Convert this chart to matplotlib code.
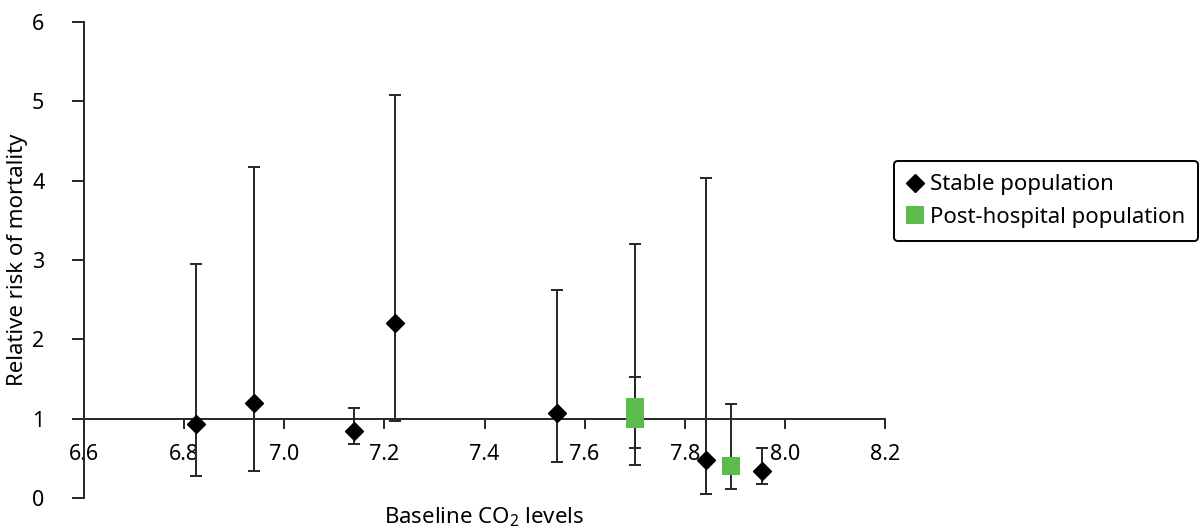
import numpy as np
import matplotlib.pyplot as plt
from matplotlib.lines import Line2D

plt.rcParams['font.family'] = ['Noto Sans', 'DejaVu Sans']
plt.rcParams['mathtext.default'] = 'regular'

# stable population studies
stable_x = [6.823, 6.94, 7.139, 7.221, 7.544, 7.842, 7.955]
stable_rr = [0.93, 1.20, 0.84, 2.21, 1.07, 0.48, 0.34]
stable_lo = [0.28, 0.34, 0.675, 0.975, 0.45, 0.05, 0.18]
stable_hi = [2.95, 4.17, 1.13, 5.08, 2.62, 4.03, 0.63]

# post-hospital population studies
post_x = [7.701, 7.701, 7.893]
post_rr = [1.15, 0.99, 0.40]
post_lo = [0.41, 0.625, 0.11]
post_hi = [3.20, 1.52, 1.19]

x_ticks = [6.6, 6.8, 7.0, 7.2, 7.4, 7.6, 7.8, 8.0, 8.2]
y_ticks = [0, 1, 2, 3, 4, 5, 6]

dark = '#262626'
green = '#5DBB4E'

fig = plt.figure(figsize=(12, 5.31), dpi=100)
ax = fig.add_axes([84/1200, 1 - 498/531, (885-84)/1200, (498-22)/531])

def yerr(rr, lo, hi):
    rr, lo, hi = np.array(rr), np.array(lo), np.array(hi)
    return [rr - lo, hi - rr]

ax.errorbar(stable_x, stable_rr, yerr=yerr(stable_rr, stable_lo, stable_hi), fmt='none',
            ecolor=dark, elinewidth=1.4, capsize=4, capthick=1.4, zorder=2)
ax.errorbar(post_x, post_rr, yerr=yerr(post_rr, post_lo, post_hi), fmt='none',
            ecolor=dark, elinewidth=1.4, capsize=4, capthick=1.4, zorder=2)
ax.plot(stable_x, stable_rr, 'D', color='black', markersize=9, zorder=3, clip_on=False)
ax.plot(post_x, post_rr, 's', color=green, markersize=13.5, markeredgewidth=0, zorder=3, clip_on=False)

ax.set_xlim(6.6, 8.2)
ax.set_ylim(0, 6)
ax.set_xticks(x_ticks)
ax.set_xticklabels([f'{v:.1f}' for v in x_ticks])
ax.set_yticks(y_ticks)

for s in ['top', 'right']:
    ax.spines[s].set_visible(False)
ax.spines['bottom'].set_position(('data', 1))
ax.spines['left'].set_color(dark)
ax.spines['bottom'].set_color(dark)
ax.spines['left'].set_linewidth(1.4)
ax.spines['bottom'].set_linewidth(1.4)

ax.tick_params(axis='x', direction='out', length=7, width=1.4, color=dark, pad=11, labelsize=15.5)
ax.tick_params(axis='y', direction='out', length=8.5, width=1.4, color=dark, pad=20, labelsize=15.5)

fig.text(484/1200, 2/531, 'Baseline CO$_2$ levels', ha='center', va='bottom', fontsize=16)
fig.text(18/1200, 1 - 260/531, 'Relative risk of mortality', ha='center', va='center',
         rotation=90, fontsize=16)

handles = [Line2D([], [], marker='D', color='black', linestyle='none', markersize=9),
           Line2D([], [], marker='s', color=green, linestyle='none', markersize=13.5, markeredgewidth=0)]
leg = fig.legend(handles, ['Stable population', 'Post-hospital population'],
                 loc='upper right', bbox_to_anchor=(1198/1200, 1 - 161/531),
                 bbox_transform=fig.transFigure, borderaxespad=0, fontsize=16,
                 fancybox=True, handlelength=0.7, handletextpad=0.3,
                 borderpad=0.6, labelspacing=0.53, framealpha=1)
leg.get_frame().set_edgecolor('black')
leg.get_frame().set_linewidth(1.4)

fig.savefig('out.png', dpi=100)
